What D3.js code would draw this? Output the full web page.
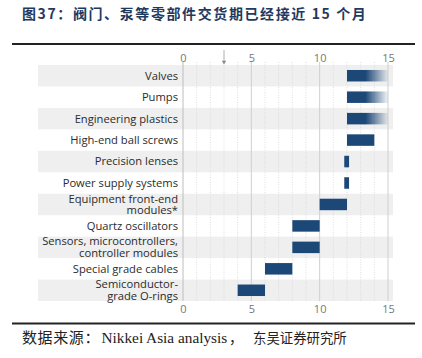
<!DOCTYPE html>
<html><head><meta charset="utf-8">
<script src="https://cdn.jsdelivr.net/npm/d3@7"></script>
<style>body{margin:0;background:#fff}svg{display:block}</style>
</head><body>
<script>
const categories = [
  ["Valves"], ["Pumps"], ["Engineering plastics"], ["High-end ball screws"],
  ["Precision lenses"], ["Power supply systems"], ["Equipment front-end", "modules*"],
  ["Quartz oscillators"], ["Sensors, microcontrollers,", "controller modules"],
  ["Special grade cables"], ["Semiconductor-", "grade O-rings"]
];
const startMonths = [12, 12, 12, 12, 11.8, 11.8, 10, 8, 8, 6, 4];
const endMonths   = [15, 15, 15, 14, 12.15, 12.15, 12, 10, 10, 8, 6];
const fading      = [true, true, true, false, false, false, false, false, false, false, false];
const tickValues = [0, 5, 10, 15];
const markerValue = 3;
const title = "图37：阀门、泵等零部件交货期已经接近 15 个月";
const sourceParts = ["数据来源：", "Nikkei Asia analysis", "，", "东吴证券研究所"];

const W = 422, H = 358;
const svg = d3.select("body").append("svg").attr("width", W).attr("height", H);
const defs = svg.append("defs");
const grad = defs.append("linearGradient").attr("id", "fade").attr("x1", "0%").attr("x2", "100%");
grad.append("stop").attr("offset", "0%").attr("stop-color", "#1c4878").attr("stop-opacity", 1);
grad.append("stop").attr("offset", "45%").attr("stop-color", "#1c4878").attr("stop-opacity", 1);
grad.append("stop").attr("offset", "100%").attr("stop-color", "#1c4878").attr("stop-opacity", 0.05);

svg.append("text").attr("x", 22).attr("y", 19)
  .attr("font-family", "'Noto Sans CJK SC'").attr("font-weight", "bold")
  .attr("font-size", 14).attr("letter-spacing", 1.6).attr("fill", "#1f3a60").text(title);
svg.append("rect").attr("x", 12).attr("y", 43).attr("width", 403).attr("height", 2).attr("fill", "#222");
svg.append("rect").attr("x", 12).attr("y", 322.5).attr("width", 403).attr("height", 2).attr("fill", "#222");

const src = svg.append("text").attr("y", 343).attr("fill", "#222")
  .attr("font-family", "'Liberation Serif','Noto Sans CJK SC'");
const srcX = [22, 101.5, 229, 253];
const srcSize = [15, 15.3, 14, 13.4];
const srcSpacing = [0.6, 0, 0, 0];
sourceParts.forEach((s, i) => {
  src.append("tspan").attr("x", srcX[i]).attr("font-size", srcSize[i])
    .attr("letter-spacing", srcSpacing[i]).text(s);
});

const x = d3.scaleLinear().domain([0, 15]).range([183, 388]);
const y = d3.scaleBand().domain(d3.range(categories.length)).range([65, 301]).paddingInner(0).paddingOuter(0);

// row bands
svg.append("g").selectAll("rect").data(categories).join("rect")
  .attr("x", 38).attr("width", 355)
  .attr("y", (d, i) => y(i)).attr("height", y.bandwidth())
  .attr("fill", (d, i) => i % 2 === 0 ? "#efefef" : "none");

// grid
const grid = svg.append("g");
grid.selectAll("line.minor").data(d3.range(1, 15).filter(v => v % 5 !== 0)).join("line")
  .attr("x1", d => x(d)).attr("x2", d => x(d)).attr("y1", 62).attr("y2", 301)
  .attr("stroke", "#d6d6d6").attr("stroke-width", 0.8).attr("stroke-dasharray", "1,1.5");
grid.selectAll("line.major").data(tickValues).join("line")
  .attr("x1", d => x(d)).attr("x2", d => x(d)).attr("y1", 62).attr("y2", 301)
  .attr("stroke", d => d === 0 ? "#bdbdbd" : "#cfcfcf").attr("stroke-width", 1);

// marker at 3
svg.append("line").attr("x1", x(markerValue)).attr("x2", x(markerValue)).attr("y1", 50).attr("y2", 62)
  .attr("stroke", "#999").attr("stroke-width", 0.8);
svg.append("path").attr("d", d3.symbol(d3.symbolTriangle, 8)())
  .attr("transform", `translate(${x(markerValue)},62) rotate(180)`).attr("fill", "#888");

// axes
const axTop = d3.axisTop(x).tickValues(tickValues).tickSize(0).tickPadding(0);
const gTop = svg.append("g").attr("transform", "translate(0,62)").call(axTop);
const axBot = d3.axisBottom(x).tickValues(tickValues).tickSize(0).tickPadding(0);
const gBot = svg.append("g").attr("transform", "translate(0,303)").call(axBot);
[gTop, gBot].forEach(g => {
  g.select(".domain").remove();
  g.selectAll("text").attr("font-family", "'Open Sans'").attr("font-size", 11).attr("fill", "#777");
});
gBot.selectAll("text").attr("dy", "0.9em");

// bars
const bh = 11.5;
svg.append("g").selectAll("rect").data(categories).join("rect")
  .attr("x", (d, i) => x(startMonths[i]))
  .attr("width", (d, i) => x(endMonths[i]) - x(startMonths[i]))
  .attr("y", (d, i) => y(i) + (y.bandwidth() - bh) / 2).attr("height", bh)
  .attr("fill", (d, i) => fading[i] ? "url(#fade)" : "#1c4878");

// labels
const lab = svg.append("g");
categories.forEach((lines, i) => {
  const cy = y(i) + y.bandwidth() / 2;
  const t = lab.append("text").attr("x", 178).attr("text-anchor", "end")
    .attr("font-family", "'Open Sans'").attr("font-size", 11.2).attr("fill", "#2b2b2b");
  const lh = 11.6;
  lines.forEach((s, j) => {
    t.append("tspan").attr("x", 178)
      .attr("y", cy + (j - (lines.length - 1) / 2) * lh).attr("dy", "0.35em").text(s);
  });
});
</script>
</body></html>
